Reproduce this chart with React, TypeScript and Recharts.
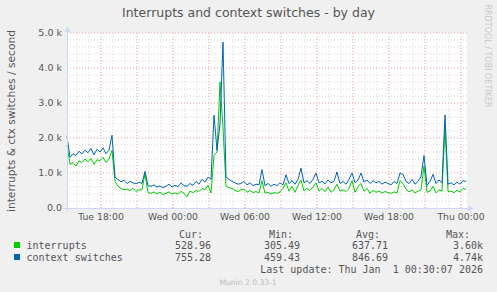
import React from 'react';
import { LineChart, Line, XAxis, YAxis, CartesianGrid, ReferenceLine } from 'recharts';

// 15 minute samples starting Tue 15:10 (t = minutes from start)
const STEP_MIN = 15;

const interrupts = [
  1800, 1250, 1300, 1200, 1350, 1300, 1400, 1320, 1420, 1250, 1380, 1350, 1450, 1300, 1400, 1650,
  760, 620, 560, 520, 540, 500, 560, 470, 520, 520, 980, 440, 420, 460, 400, 450,
  380, 420, 460, 400, 430, 400, 470, 420, 320, 480, 440, 500, 470, 560, 520, 650,
  430, 1500, 1600, 3600, 2300, 620, 580, 560, 500, 470, 520, 540, 450, 500, 440, 470,
  430, 780, 420, 450, 400, 440, 420, 460, 560, 720, 480, 620, 450, 650, 800, 480,
  560, 500, 600, 720, 480, 560, 470, 600, 450, 520, 680, 480, 520, 470, 560, 780,
  450, 620, 700, 480, 560, 420, 500, 450, 480, 430, 470, 440, 420, 460, 430, 780,
  700, 540, 460, 520, 430, 480, 520, 1200, 450, 480, 620, 430, 520, 480, 2300, 470,
  480, 440, 500, 460, 560, 529,
];

const contextSwitches = [
  2050, 1450, 1550, 1500, 1620, 1550, 1650, 1580, 1700, 1520, 1680, 1600, 1720, 1550, 1650, 2080,
  880, 820, 750, 790, 700, 760, 720, 690, 740, 700, 1050, 640, 620, 660, 600, 630,
  580, 620, 680, 600, 650, 610, 720, 640, 620, 700, 650, 760, 680, 820, 740, 880,
  820, 2650, 1650, 2400, 4740, 880, 820, 760, 720, 680, 700, 760, 660, 720, 640, 680,
  660, 1100, 640, 700, 620, 680, 640, 720, 660, 950, 700, 780, 680, 820, 1140, 720,
  780, 700, 820, 1000, 720, 760, 690, 800, 720, 760, 1030, 700, 760, 680, 820, 1000,
  720, 800, 1000, 740, 800, 700, 780, 720, 760, 680, 740, 700, 660, 760, 700, 1000,
  960, 760, 700, 820, 680, 760, 900, 1500, 640, 760, 960, 700, 800, 720, 2660, 680,
  720, 660, 740, 680, 780, 755,
];

const xTicks = [170, 530, 890, 1250, 1610, 1970];
const xTickLabels = ['Tue 18:00', 'Wed 00:00', 'Wed 06:00', 'Wed 12:00', 'Wed 18:00', 'Thu 00:00'];
const yTicks = [0, 1000, 2000, 3000, 4000, 5000];

const legendRows = [
  { name: 'interrupts', color: '#00cc00', cur: '528.96', min: '305.49', avg: '637.71', max: '3.60k' },
  { name: 'context switches', color: '#0066b3', cur: '755.28', min: '459.43', avg: '846.69', max: '4.74k' },
];

const data = interrupts.map((v, i) => ({ t: i * STEP_MIN, interrupts: v, ctx: contextSwitches[i] }));

// grid: minor every hour / 200, major every 3 hours / 1000
const vMinor: number[] = [];
for (let t = 50; t <= 2000; t += 60) if ((t - 170) % 180 !== 0) vMinor.push(t);
const vMajor: number[] = [];
for (let t = 170; t <= 2000; t += 180) vMajor.push(t);
const hMinor: number[] = [];
for (let v = 200; v < 5000; v += 200) if (v % 1000 !== 0) hMinor.push(v);
const hMajor = [1000, 2000, 3000, 4000, 5000];

const FONT = '"DejaVu Sans", sans-serif';
const MONO = '"DejaVu Sans Mono", monospace';
const TXT = '#555555';
const AXIS = '#cfd6f8';

const fmtY = (v: number) => (v === 0 ? '0.0' : (v / 1000).toFixed(1) + ' k');
const fmtX = (v: number) => xTickLabels[xTicks.indexOf(v)] ?? '';

export default function App() {
  return (
    <div style={{ position: 'absolute', left: 0, top: 0, width: 497, height: 292, background: '#f0f0f0' }}>
      <LineChart width={497} height={292} data={data} margin={{ top: 33, right: 30, bottom: 0, left: 0 }}>
        <CartesianGrid fill="#ffffff" stroke="none" />
        {hMinor.map((v) => (
          <ReferenceLine key={'hm' + v} y={v} stroke="#d6d6d6" strokeDasharray="1 2" />
        ))}
        {vMinor.map((v) => (
          <ReferenceLine key={'vm' + v} x={v} stroke="#d6d6d6" strokeDasharray="1 2" />
        ))}
        {hMajor.map((v) => (
          <ReferenceLine key={'hM' + v} y={v} stroke="#eda0a0" strokeDasharray="1 2" />
        ))}
        {vMajor.map((v) => (
          <ReferenceLine key={'vM' + v} x={v} stroke="#eda0a0" strokeDasharray="1 2" />
        ))}
        <XAxis
          type="number"
          dataKey="t"
          domain={[0, 2000]}
          ticks={xTicks}
          interval={0}
          tickFormatter={fmtX}
          axisLine={false}
          tickLine={false}
          tickSize={0}
          tickMargin={5}
          height={84}
          tick={{ fontSize: 9.3, fill: TXT, fontFamily: FONT }}
        />
        <YAxis
          type="number"
          domain={[0, 5000]}
          ticks={yTicks}
          interval={0}
          tickFormatter={fmtY}
          axisLine={false}
          tickLine={false}
          tickSize={0}
          tickMargin={5}
          width={67}
          tick={{ fontSize: 9.5, fill: TXT, fontFamily: FONT }}
        />
        <Line type="linear" dataKey="interrupts" stroke="#00cc00" strokeWidth={1} dot={false} isAnimationActive={false} />
        <Line type="linear" dataKey="ctx" stroke="#0066b3" strokeWidth={1} dot={false} isAnimationActive={false} />
      </LineChart>
      <svg width={497} height={292} style={{ position: 'absolute', left: 0, top: 0, pointerEvents: 'none' }}>
        <line x1={67.5} y1={212} x2={67.5} y2={30} stroke={AXIS} />
        <polygon points="67.5,26 64.5,32 70.5,32" fill={AXIS} />
        <line x1={63} y1={208.5} x2={470} y2={208.5} stroke={AXIS} />
        <polygon points="474,208.5 468,205.5 468,211.5" fill={AXIS} />
        <text x={248.5} y={16.5} textAnchor="middle" fontSize={12.5} fill={TXT} fontFamily={FONT}>
          Interrupts and context switches - by day
        </text>
        <text
          x={15}
          y={121}
          textAnchor="middle"
          fontSize={10.7}
          fill={TXT}
          fontFamily={FONT}
          transform="rotate(-90 15 121)"
        >
          interrupts &amp; ctx switches / second
        </text>
        <text
          x={485}
          y={56}
          textAnchor="middle"
          fontSize={8}
          fill="#c8c8c8"
          fontFamily={FONT}
          transform="rotate(90 485 56)"
        >
          RRDTOOL / TOBI OETIKER
        </text>
        <g fontFamily={MONO} fontSize={10} fill={TXT}>
          <text x={203} y={238} textAnchor="end">Cur:</text>
          <text x={293} y={238} textAnchor="end">Min:</text>
          <text x={380} y={238} textAnchor="end">Avg:</text>
          <text x={470} y={238} textAnchor="end">Max:</text>
          {legendRows.map((r, i) => (
            <g key={r.name}>
              <rect x={14} y={242 + i * 12} width={6} height={6} fill={r.color} />
              <text x={26.5} y={249 + i * 12}>{r.name}</text>
              <text x={211} y={249 + i * 12} textAnchor="end">{r.cur}</text>
              <text x={300} y={249 + i * 12} textAnchor="end">{r.min}</text>
              <text x={388} y={249 + i * 12} textAnchor="end">{r.avg}</text>
              <text x={483} y={249 + i * 12} textAnchor="end">{r.max}</text>
            </g>
          ))}
          <text x={483} y={273} textAnchor="end" xmlSpace="preserve">Last update: Thu Jan  1 00:30:07 2026</text>
        </g>
        <text x={248} y={285} textAnchor="middle" fontSize={7.6} fill="#bbbbbb" fontFamily={FONT}>
          Munin 2.0.33-1
        </text>
      </svg>
    </div>
  );
}
